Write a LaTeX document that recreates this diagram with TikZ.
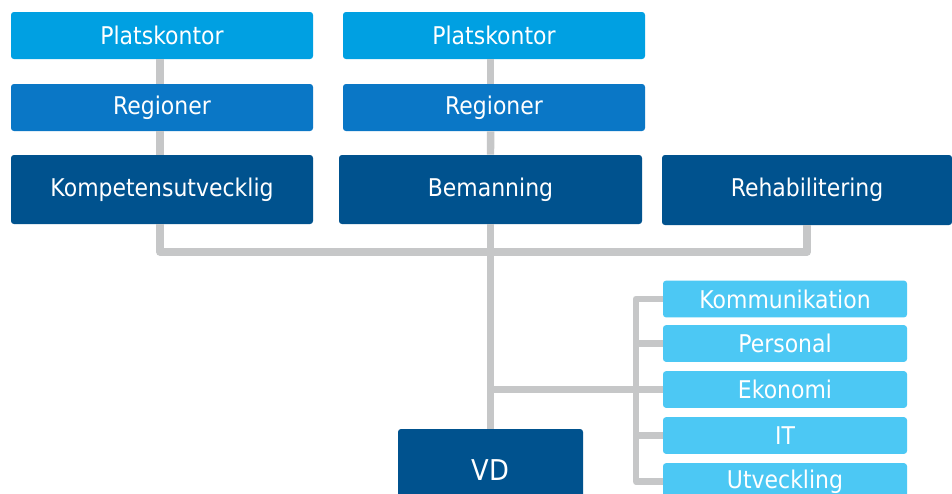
\documentclass[tikz,border=0pt]{standalone}
\usepackage{fontspec}
\setmainfont{DejaVu Sans}[FakeStretch=0.9]
\definecolor{cPlats}{HTML}{00A0E2}
\definecolor{cReg}{HTML}{0A77C6}
\definecolor{cDark}{HTML}{00528E}
\definecolor{cSmall}{HTML}{4CC8F4}
\definecolor{cLine}{HTML}{C6C7C8}
\begin{document}
\begin{tikzpicture}[x=0.75pt,y=-0.75pt,
  box/.style={rectangle, rounded corners=2.2pt, inner sep=0pt, text=white,
    font=\fontsize{18.3}{20}\selectfont},
  platsbox/.style={box, fill=cPlats, minimum width=226.5pt, minimum height=35.25pt},
  regbox/.style={box, fill=cReg, minimum width=226.5pt, minimum height=35.25pt},
  darkbox/.style={box, fill=cDark, minimum width=226.5pt, minimum height=51.75pt},
  smallbox/.style={box, fill=cSmall, minimum width=183pt, minimum height=27.5pt},
  conn/.style={draw=cLine, line width=5.6pt},
  bconn/.style={draw=cLine, line width=5pt, line join=round}]
\clip (0,0) rectangle (952,493);
\fill[white] (0,0) rectangle (952,493);
% top columns
\node[platsbox] (p1) at (162,35.5) {Platskontor};
\node[regbox]   (r1) at (162,107.5) {Regioner};
\node[darkbox]  (komp) at (162,189.5) {Kompetensutvecklig};
\node[platsbox] (p2) at (494,35.5) {Platskontor};
\node[regbox]   (r2) at (494,107.5) {Regioner};
\node[darkbox, minimum width=227.25pt] (bem) at (490.5,189.5) {Bemanning};
\node[darkbox, minimum width=217.5pt, minimum height=52.5pt] (rehab) at (807,190) {Rehabilitering};
% staff boxes
\node[smallbox] (komm) at (785,299) {Kommunikation};
\node[smallbox] (pers) at (785,343.5) {Personal};
\node[smallbox] (ekon) at (785,389.5) {Ekonomi};
\node[smallbox] (it)   at (785,435.5) {IT};
\node[smallbox] (utv)  at (785,481.5) {Utveckling};
% VD
\node[darkbox, minimum width=138.75pt, minimum height=61.5pt,
      font=\fontsize{21.5}{24}\selectfont] (vd) at (490.5,470) {VD};
% connectors
\coordinate (busL) at (160,252);
\draw[conn] ([xshift=-1.5pt]p1.south) -- ([xshift=-1.5pt]r1.north);
\draw[conn] ([xshift=-1.5pt]r1.south) -- ([xshift=-1.5pt]komp.north);
\draw[conn] ([xshift=-2.6pt]p2.south) -- ([xshift=-2.6pt]r2.north);
\draw[conn] ([xshift=-2.6pt]r2.south) -- (bem.north);
\draw[conn, line join=round] ([xshift=-1.5pt]komp.south) -- (busL) -| (rehab.south);
\draw[conn] (bem.south) -- (vd.north);
\coordinate (brk) at (636,389.5);
\draw[conn] (bem.south |- ekon.west) -- (ekon.west);
\draw[bconn] (komm.west) -- (komm.west -| brk) -- (utv.west -| brk) -- (utv.west);
\draw[bconn] (pers.west) -- (pers.west -| brk);
\draw[bconn] (it.west) -- (it.west -| brk);
\end{tikzpicture}
\end{document}
